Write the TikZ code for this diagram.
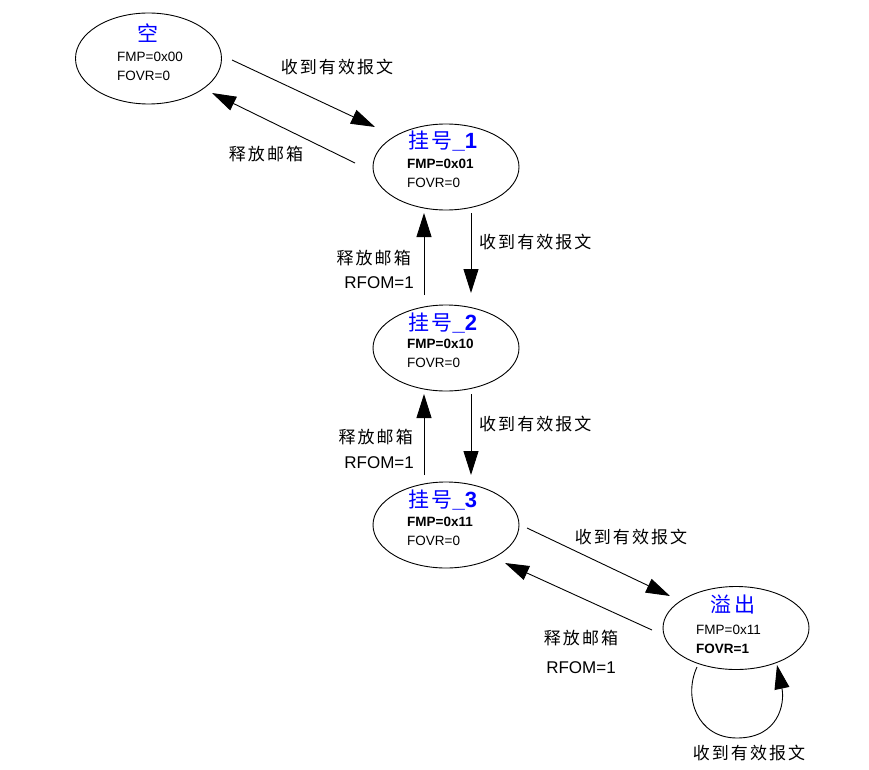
\documentclass[tikz,border=0pt]{standalone}
\usepackage{fontspec}
\setmainfont{Liberation Sans}
\newfontfamily\cjk[LetterSpace=12]{Noto Sans CJK SC}
\usetikzlibrary{arrows.meta,calc,shapes.geometric}
\definecolor{ttlblue}{RGB}{0,0,255}
\tikzset{
  state/.style={draw, line width=0.9pt, ellipse, minimum width=146pt, minimum height=86pt, inner sep=0pt},
  ttl/.style={text=ttlblue, inner sep=0pt, anchor=base, font=\fontsize{21}{24}\selectfont\cjk},
  info/.style={inner sep=0pt, anchor=base west, font=\fontsize{13.5}{19}\selectfont},
  lbl/.style={inner sep=0pt, anchor=base, font=\fontsize{17}{24}\selectfont\cjk},
  lbll/.style={lbl, anchor=base west},
  lblr/.style={lbl, anchor=base east},
  lbltxt/.style={inner sep=0pt, font=\fontsize{17}{24}\selectfont},
  arr/.style={line width=0.9pt, -{Triangle[length=24pt,width=15pt]}},
}
\newcommand\numpart[1]{{\fontspec{Liberation Sans}\bfseries\fontsize{22}{24}\selectfont\_#1}}
\begin{document}
\begin{tikzpicture}[x=1pt,y=-1pt]
\useasboundingbox (0,0) rectangle (869,770);
% states
\node[state, minimum height=91pt] (s0) at (148.5,58.5) {};
\node[state] (s1) at (446,167) {};
\node[state] (s2) at (446,348) {};
\node[state] (s3) at (446,525) {};
\node[state, minimum height=83pt] (s4) at (736,628) {};
% titles
\node[ttl] (s0t) at ($(s0)+(-1,-17)$) {空};
\node[ttl] (s1t) at ($(s1)+(-3.5,-18)$) {挂号\numpart{1}};
\node[ttl] (s2t) at ($(s2)+(-3.5,-18)$) {挂号\numpart{2}};
\node[ttl] (s3t) at ($(s3)+(-3.5,-18)$) {挂号\numpart{3}};
\node[ttl] (s4t) at ($(s4)+(-3,-16)$) {溢出};
% info lines
\node[info] (s0a) at ($(s0)+(-31.5,3.3)$) {FMP=0x00};
\node[info] (s0b) at ($(s0)+(-31.5,22.3)$) {FOVR=0};
\node[info] (s1a) at ($(s1)+(-39,1)$) {\bfseries FMP=0x01};
\node[info] (s1b) at ($(s1)+(-39,20)$) {FOVR=0};
\node[info] (s2a) at ($(s2)+(-39,0)$) {\bfseries FMP=0x10};
\node[info] (s2b) at ($(s2)+(-39,19)$) {FOVR=0};
\node[info] (s3a) at ($(s3)+(-39,1)$) {\bfseries FMP=0x11};
\node[info] (s3b) at ($(s3)+(-39,20)$) {FOVR=0};
\node[info] (s4a) at ($(s4)+(-40,6)$) {FMP=0x11};
\node[info] (s4b) at ($(s4)+(-40,25)$) {\bfseries FOVR=1};
% connectors
\draw[arr] ($(s0)+(83.5,1.5)$) -- ($(s1)+(-71,-40)$);
\draw[arr] ($(s1)+(-91,-4)$) -- ($(s0)+(63.5,34.5)$);
\draw[arr] ($(s1)+(25,46)$) -- ($(s2)+(25,-55)$);
\draw[arr] ($(s2)+(-22,-53)$) -- ($(s1)+(-22,46)$);
\draw[arr] ($(s2)+(25,46)$) -- ($(s3)+(25,-50)$);
\draw[arr] ($(s3)+(-22,-50)$) -- ($(s2)+(-22,46)$);
\draw[arr] ($(s3)+(81,3)$) -- ($(s4)+(-66,-32)$);
\draw[arr] ($(s4)+(-84,2)$) -- ($(s3)+(59,38)$);
\draw[arr] ($(s4)+(-39,39)$) .. controls +(-14,30) and +(-40,0) .. ($(s4)+(1,110)$)
           .. controls +(42,0) and +(8,38) .. ($(s4)+(41,37)$);
% labels
\node[lbl] (l1) at (337,73.5) {收到有效报文};
\node[lbl] (l2) at (266,160.5) {释放邮箱};
\node[lbll] (l3) at (479,248.5) {收到有效报文};
\node[lblr] (l4a) at (411,264.5) {释放邮箱};
\node[lbltxt, anchor=base east] (l4b) at (414,288) {RFOM=1};
\node[lbll] (l5) at (479,430.5) {收到有效报文};
\node[lblr] (l6a) at (413,443.5) {释放邮箱};
\node[lbltxt, anchor=base east] (l6b) at (414,468) {RFOM=1};
\node[lbl] (l7) at (631,543.5) {收到有效报文};
\node[lbl] (l8a) at (581,644.5) {释放邮箱};
\node[lbltxt, anchor=base] (l8b) at (581,673) {RFOM=1};
\node[lbl] (l9) at (749,759.5) {收到有效报文};
\end{tikzpicture}
\end{document}
